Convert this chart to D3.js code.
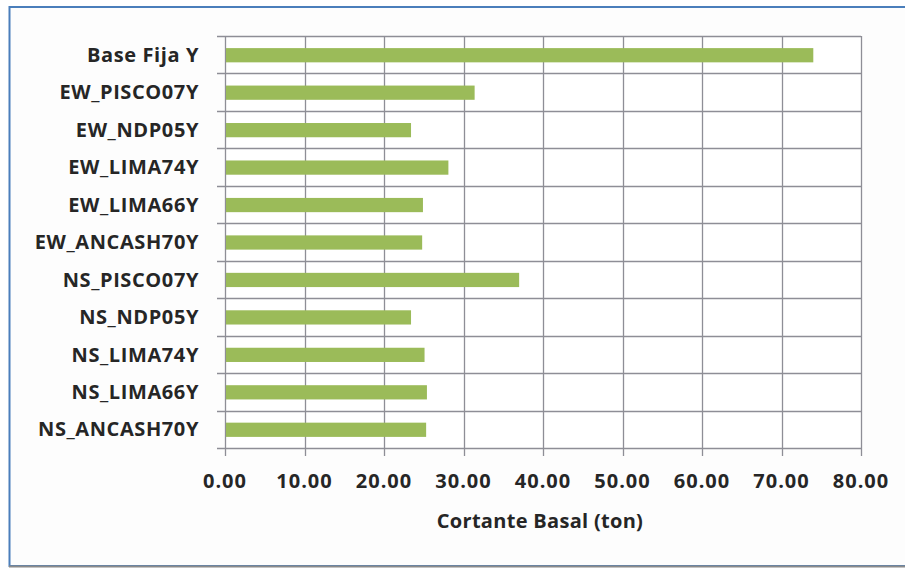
<!DOCTYPE html>
<html>
<head>
<meta charset="utf-8">
<script src="https://cdn.jsdelivr.net/npm/d3@7"></script>
<style>
  html, body { margin: 0; padding: 0; background: #ffffff; }
  svg { display: block; }
  text { font-family: "Open Sans", Lato, sans-serif; font-weight: bold; fill: #262626; }
</style>
</head>
<body>
<svg id="chart" width="905" height="568"></svg>
<script>
// Basal shear per record (ton)
const categories = [
  "Base Fija Y", "EW_PISCO07Y", "EW_NDP05Y", "EW_LIMA74Y", "EW_LIMA66Y",
  "EW_ANCASH70Y", "NS_PISCO07Y", "NS_NDP05Y", "NS_LIMA74Y", "NS_LIMA66Y", "NS_ANCASH70Y"
];
const values = [74.0, 31.4, 23.4, 28.1, 24.9, 24.8, 37.0, 23.4, 25.1, 25.4, 25.3];
const xTicks = [0, 10, 20, 30, 40, 50, 60, 70, 80];
const xTitle = "Cortante Basal (ton)";

const svg = d3.select("#chart");
const W = 905, H = 568;
const plot = { left: 225, right: 861, top: 36, bottom: 448 };

// outer frame
svg.append("rect").attr("x", 0).attr("y", 0).attr("width", W).attr("height", H).attr("fill", "#ffffff");
svg.append("rect").attr("x", 9.5).attr("y", 7).attr("width", W + 10).attr("height", 559)
  .attr("fill", "#fdfdfd").attr("stroke", "#4a7ebb").attr("stroke-width", 2);
svg.append("line").attr("x1", 9).attr("x2", W).attr("y1", 566.5).attr("y2", 566.5)
  .attr("stroke", "#8a8a8a").attr("stroke-width", 2);

const x = d3.scaleLinear().domain([0, 80]).range([plot.left, plot.right]);
const y = d3.scaleBand().domain(categories).range([plot.top, plot.bottom]).paddingInner(0).paddingOuter(0);

svg.append("rect").attr("x", plot.left).attr("y", plot.top)
  .attr("width", plot.right - plot.left).attr("height", plot.bottom - plot.top).attr("fill", "#ffffff");

const gridColor = "#8e8e96";

// vertical gridlines with tick marks below the plot
svg.append("g").selectAll("line").data(xTicks).join("line")
  .attr("x1", d => Math.round(x(d)) + 0.5).attr("x2", d => Math.round(x(d)) + 0.5)
  .attr("y1", plot.top).attr("y2", plot.bottom + 8)
  .attr("stroke", gridColor).attr("stroke-width", 1.3);

// horizontal category separators with tick marks left of the axis
const bounds = categories.map(c => y(c)).concat([plot.bottom]);
svg.append("g").selectAll("line").data(bounds).join("line")
  .attr("x1", plot.left - 8).attr("x2", plot.right)
  .attr("y1", d => Math.round(d) + 0.5).attr("y2", d => Math.round(d) + 0.5)
  .attr("stroke", gridColor).attr("stroke-width", 1.3);

// bars
const barH = y.bandwidth() * 0.38;
svg.append("g").selectAll("rect").data(values).join("rect")
  .attr("x", x(0) + 1)
  .attr("y", (d, i) => y(categories[i]) + y.bandwidth() / 2 - barH / 2 + 0.5)
  .attr("width", d => x(d) - x(0) - 1)
  .attr("height", barH)
  .attr("fill", "#9bbb59");

// category labels
svg.append("g").selectAll("text").data(categories).join("text")
  .attr("x", 199)
  .attr("y", d => y(d) + y.bandwidth() / 2)
  .attr("dy", "0.36em")
  .attr("text-anchor", "end")
  .attr("font-size", 20)
  .attr("letter-spacing", 0.6)
  .text(d => d);

// x tick labels
svg.append("g").selectAll("text").data(xTicks).join("text")
  .attr("x", d => x(d))
  .attr("y", 481)
  .attr("dy", "0.36em")
  .attr("text-anchor", "middle")
  .attr("font-size", 20)
  .attr("letter-spacing", 1)
  .text(d => d3.format(".2f")(d));

// axis title
svg.append("text")
  .attr("x", 540).attr("y", 521).attr("dy", "0.36em")
  .attr("text-anchor", "middle")
  .attr("font-size", 20)
  .attr("letter-spacing", 0.3)
  .text(xTitle);
</script>
</body>
</html>
